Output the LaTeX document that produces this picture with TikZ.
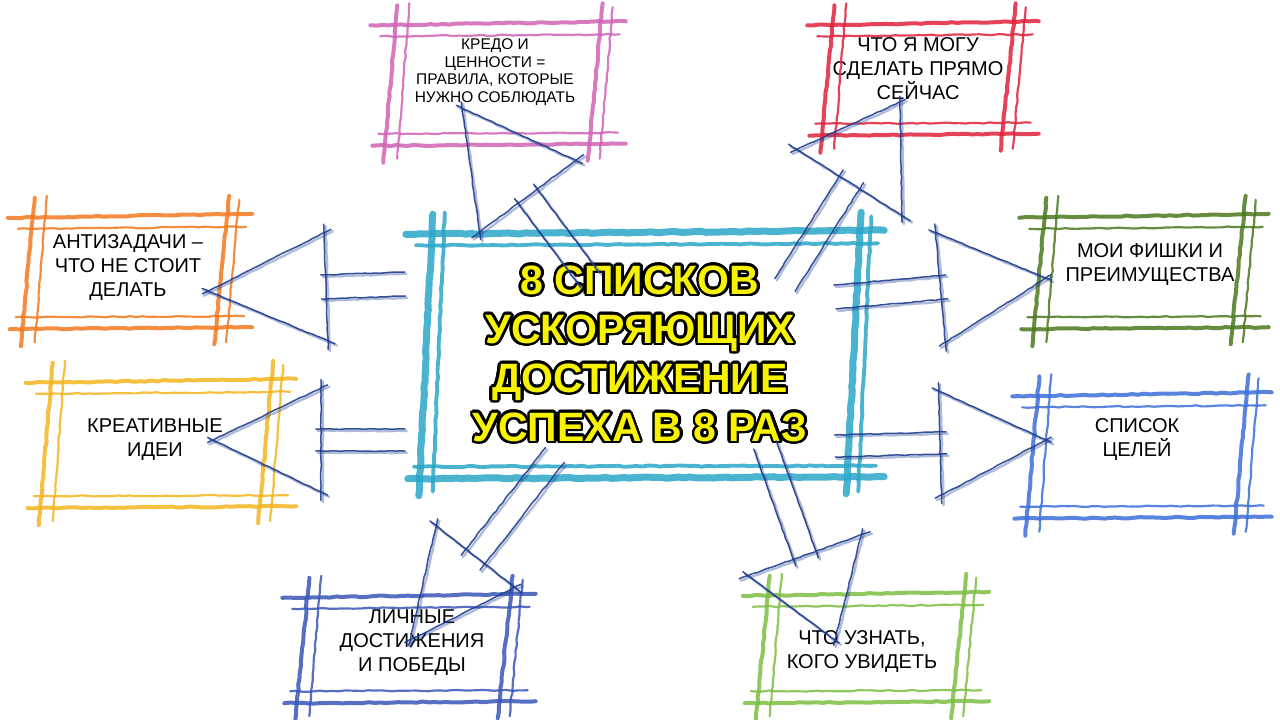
\documentclass[tikz,border=0pt]{standalone}
\usepackage{fontspec}
\usepackage[copies]{contour}
\usetikzlibrary{calc,decorations.pathmorphing}

\newfontfamily\boxfont{Liberation Sans}
\contourlength{2.6pt}
\contournumber{24}

\definecolor{centrecyan}{HTML}{2BA6C8}
\definecolor{antiorange}{HTML}{F37A1F}
\definecolor{ideiyellow}{HTML}{F4B41F}
\definecolor{fishgreen}{HTML}{4C7A1E}
\definecolor{celiblue}{HTML}{3C6FD8}
\definecolor{pobedyblue}{HTML}{3A56B8}
\definecolor{uznatgreen}{HTML}{7DBE43}
\definecolor{nowred}{HTML}{E0223D}
\definecolor{kredopink}{HTML}{D063B6}
\definecolor{pencilblue}{HTML}{1F3D8F}
\definecolor{titleyellow}{HTML}{F6F200}

\def\crayonw{4pt}

\tikzset{
  crayon/.style={draw=#1, line width=\crayonw, line cap=round, opacity=.85,
    decorate, decoration={random steps, segment length=6pt, amplitude=.6pt}},
  crayonthin/.style={crayon=#1, line width=.55*\crayonw},
  pencil/.style={draw=pencilblue, line width=1.5pt, line cap=round, opacity=.9,
    decorate, decoration={random steps, segment length=5pt, amplitude=.4pt}},
  pencilsoft/.style={pencil, line width=2.4pt, opacity=.35,
    transform canvas={shift={(1.8pt,-1.8pt)}}},
  listnode/.style={font=\boxfont\fontsize{20}{24}\selectfont, align=center, inner sep=0pt},
  titlenode/.style={font=\boxfont\bfseries\fontsize{41}{49}\selectfont, align=center,
    inner sep=0pt, text=titleyellow}
}

% frame of crossing crayon strokes round a node, shifted by (#3,#4)
\newcommand{\crayonbox}[4]{%
  \draw[crayon=#2] ($(#1.north west)+(#3,#4)+(-22,-2)$) -- ($(#1.north east)+(#3,#4)+(24,-6)$);
  \draw[crayonthin=#2] ($(#1.north west)+(#3,#4)+(-12,9)$) -- ($(#1.north east)+(#3,#4)+(18,7)$);
  \draw[crayon=#2] ($(#1.south west)+(#3,#4)+(-20,3)$) -- ($(#1.south east)+(#3,#4)+(24,1)$);
  \draw[crayonthin=#2] ($(#1.south west)+(#3,#4)+(-14,-9)$) -- ($(#1.south east)+(#3,#4)+(16,-10)$);
  \draw[crayon=#2] ($(#1.south west)+(#3,#4)+(-9,20)$) -- ($(#1.north west)+(#3,#4)+(5,-22)$);
  \draw[crayonthin=#2] ($(#1.south west)+(#3,#4)+(5,16)$) -- ($(#1.north west)+(#3,#4)+(17,-24)$);
  \draw[crayon=#2] ($(#1.south east)+(#3,#4)+(-14,18)$) -- ($(#1.north east)+(#3,#4)+(1,-24)$);
  \draw[crayonthin=#2] ($(#1.south east)+(#3,#4)+(-2,16)$) -- ($(#1.north east)+(#3,#4)+(11,-20)$);
}

% hollow pencil arrow: tail, tip, shaft half width, head half width, head length
\newcommand{\hollowarrow}[5]{%
  \coordinate (hb) at ($(#2)!#5pt!(#1)$);
  \coordinate (s1) at ($(#1)!#3pt!90:(#2)$);
  \coordinate (s2) at ($(#1)!#3pt!-90:(#2)$);
  \coordinate (b1) at ($(hb)!#3pt!90:(#2)$);
  \coordinate (b2) at ($(hb)!#3pt!-90:(#2)$);
  \coordinate (w1) at ($(hb)!#4pt!90:(#2)$);
  \coordinate (w2) at ($(hb)!#4pt!-90:(#2)$);
  \foreach \sty in {pencil, pencilsoft} {
    \draw[\sty] (s1) -- ($(s1)!1.06!(b1)$);
    \draw[\sty] (s2) -- ($(s2)!1.06!(b2)$);
    \draw[\sty] ($(w1)!-.08!(w2)$) -- ($(w1)!1.08!(w2)$);
    \draw[\sty] ($(w1)!-.06!(#2)$) -- ($(w1)!1.05!(#2)$);
    \draw[\sty] ($(w2)!-.06!(#2)$) -- ($(w2)!1.05!(#2)$);
  }
}

\begin{document}
\begin{tikzpicture}[x=1pt, y=-1pt]
  \useasboundingbox[fill=white] (0,0) rectangle (1280,720);

  \node[titlenode, minimum width=432pt, minimum height=239pt] (title) at (640,355)
    {\contour{black}{8 СПИСКОВ}\\\contour{black}{УСКОРЯЮЩИХ}\\\contour{black}{ДОСТИЖЕНИЕ}\\\contour{black}{УСПЕХА В 8 РАЗ}};

  \node[listnode, font=\boxfont\fontsize{15.5}{17.5}\selectfont, minimum width=209pt, minimum height=115pt] (kredo) at (495,72)
    {КРЕДО И\\ЦЕННОСТИ =\\ПРАВИЛА, КОТОРЫЕ\\НУЖНО СОБЛЮДАТЬ};
  \node[listnode, minimum width=185pt, minimum height=105pt] (seychas) at (918,69)
    {ЧТО Я МОГУ\\СДЕЛАТЬ ПРЯМО\\СЕЙЧАС};
  \node[listnode, minimum width=198pt, minimum height=106pt] (anti) at (128,268)
    {АНТИЗАДАЧИ –\\ЧТО НЕ СТОИТ\\ДЕЛАТЬ};
  \node[listnode, minimum width=224pt, minimum height=120pt] (idei) at (155,440)
    {КРЕАТИВНЫЕ\\ИДЕИ};
  \node[listnode, minimum width=203pt, minimum height=106pt] (fishki) at (1150,265)
    {МОИ ФИШКИ И\\ПРЕИМУЩЕСТВА};
  \node[listnode, minimum width=213pt, minimum height=117pt] (celi) at (1137,440)
    {СПИСОК\\ЦЕЛЕЙ};
  \node[listnode, minimum width=207pt, minimum height=100pt] (pobedy) at (412,643)
    {ЛИЧНЫЕ\\ДОСТИЖЕНИЯ\\И ПОБЕДЫ};
  \node[listnode, minimum width=200pt, minimum height=102pt] (uznat) at (862,652)
    {ЧТО УЗНАТЬ,\\КОГО УВИДЕТЬ};

  \begin{scope}
    \def\crayonw{7pt}
    \crayonbox{title}{centrecyan}{4}{1}
  \end{scope}
  \crayonbox{kredo}{kredopink}{2}{13}
  \crayonbox{seychas}{nowred}{4}{11}
  \crayonbox{anti}{antiorange}{1}{5}
  \crayonbox{idei}{ideiyellow}{5}{5}
  \crayonbox{fishki}{fishgreen}{-7}{8}
  \crayonbox{celi}{celiblue}{4}{17}
  \crayonbox{pobedy}{pobedyblue}{-4}{7}
  \crayonbox{uznat}{uznatgreen}{3}{-3}

  \coordinate (antiTail) at (405,284);   \coordinate (antiTip) at (208,291);
  \coordinate (ideiTail) at (405,440);   \coordinate (ideiTip) at (213,440);
  \coordinate (fishkiTail) at (835,297); \coordinate (fishkiTip) at (1046,278);
  \coordinate (celiTail) at (835,446);   \coordinate (celiTip) at (1046,440);
  \coordinate (kredoTail) at (590,280);  \coordinate (kredoTip) at (462,108);
  \coordinate (seychasTail) at (785,285); \coordinate (seychasTip) at (900,102);
  \coordinate (pobedyTail) at (555,455); \coordinate (pobedyTip) at (410,640);
  \coordinate (uznatTail) at (765,445);  \coordinate (uznatTip) at (835,640);

  \hollowarrow{antiTail}{antiTip}{12}{54}{118}
  \hollowarrow{ideiTail}{ideiTip}{11}{52}{108}
  \hollowarrow{fishkiTail}{fishkiTip}{12}{55}{106}
  \hollowarrow{celiTail}{celiTip}{11}{52}{106}
  \hollowarrow{kredoTail}{kredoTip}{12}{60}{110}
  \hollowarrow{seychasTail}{seychasTip}{12}{62}{95}
  \hollowarrow{pobedyTail}{pobedyTip}{12}{50}{106}
  \hollowarrow{uznatTail}{uznatTip}{12}{60}{90}
\end{tikzpicture}
\end{document}
